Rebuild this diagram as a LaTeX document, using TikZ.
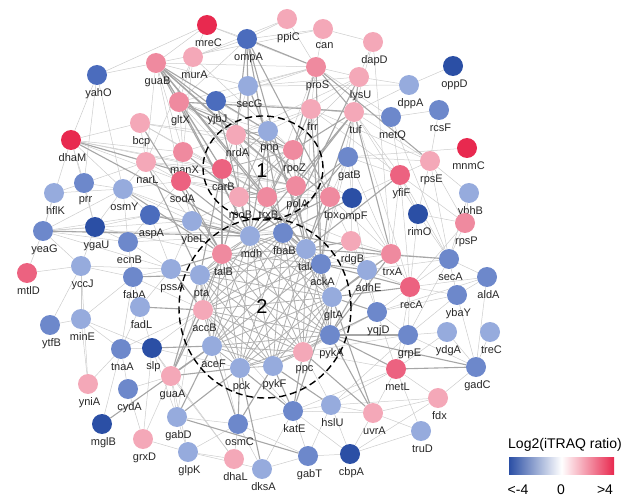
\documentclass[tikz,border=0pt]{standalone}
\usepackage{fontspec}
\setmainfont{Liberation Sans}
\usetikzlibrary{shapes.geometric,backgrounds}
\definecolor{bD}{HTML}{2B4FA5}
\definecolor{bC}{HTML}{4B6CBD}
\definecolor{bB}{HTML}{6D88CB}
\definecolor{bA}{HTML}{96ABDD}
\definecolor{rA}{HTML}{F4A8B8}
\definecolor{rB}{HTML}{EF8A9F}
\definecolor{rC}{HTML}{EC6280}
\definecolor{rD}{HTML}{E8294F}
\tikzset{
  gene/.style={circle, fill=#1, minimum size=20pt, inner sep=0pt},
  lbl/.style={font=\fontsize{11}{13}\selectfont, text=black!85, inner sep=1pt, label distance=2.5pt, xshift=1.5pt},
  lnk/.style={draw=gray!40, line width=0.5pt},
  lnkm/.style={draw=gray!62, line width=0.8pt},
  lnkw/.style={draw=gray!70, line width=1.1pt},
  module/.style={ellipse, draw=black, dashed, dash pattern=on 7pt off 4pt, line width=1.4pt, inner sep=0pt},
  modnum/.style={font=\fontsize{20}{22}\selectfont},
  legtxt/.style={font=\fontsize{14}{16}\selectfont}
}
\begin{document}
\begin{tikzpicture}[x=1pt,y=-1pt]
\useasboundingbox (0,0) rectangle (638,500);
% clusters
\node[module, minimum width=120pt, minimum height=104pt] (clusA) at (263,168) {};
\node[module, minimum width=172pt, minimum height=180pt] (clusB) at (265,308) {};
\node[modnum] (numA) at (262,171) {1};
\node[modnum] (numB) at (262,307) {2};
% proteins: name/x/y/colour
\foreach \n/\x/\y/\col in {
  mreC/207/25/rD, ompA/247/39/bC, ppiC/287/19/rA, can/323/29/rA, dapD/373/42/rA,
  oppD/453/66/bD, yahO/97/75/bC, guaB/156/63/rB, murA/193/57/rA, proS/316/67/rB,
  lysU/359/77/rA, secG/248/86/bA, dppA/409/85/bA, gltX/179/102/rB, yjbJ/216/101/bC,
  frr/311/109/rA, tuf/354/112/rA, metQ/391/117/bB, rcsF/439/110/bB, bcp/140/123/rA,
  nrdA/236/135/rA, pnp/268/131/bA, dhaM/71/140/rD, mnmC/467/148/rD, rpoZ/293/150/rB,
  manX/183/152/rB, gatB/348/157/bB, rpsE/430/161/rA, narL/146/162/rA, carB/222/169/rC,
  yfiF/400/175/rC, sodA/181/181/rC, prr/84/183/bB, polA/296/186/rB, hflK/54/193/bA,
  osmY/123/189/bA, ybhB/469/193/bA, rpoB/239/197/rA, trxB/267/197/rB, tpx/330/197/rB,
  ompF/352/198/bD, rimO/418/214/bD, aspA/150/215/bC, ybeL/192/221/bA, rpsP/465/223/rB,
  ygaU/95/227/bD, yeaG/43/231/bB, mdh/250/236/bA, fbaB/283/233/bB, ecnB/128/242/bB,
  rdgB/351/241/rA, talA/306/249/bA, talB/222/254/rB, trxA/391/254/rB, secA/449/259/bB,
  ackA/321/264/bB, yccJ/81/266/bA, pssA/171/269/bA, adhE/367/270/bA, mtlD/27/273/rC,
  fabA/133/277/bB, pta/200/275/bA, aldA/487/277/bB, recA/410/287/rC, ybaY/457/295/bB,
  gltA/332/297/bA, fadL/140/307/bA, accB/203/310/rA, yqjD/377/312/bB, minE/81/319/bA,
  ytfB/50/325/bB, treC/490/332/bA, ydgA/447/332/bA, grpE/408/335/bB, pykA/330/335/bB,
  aceF/212/346/bA, tnaA/121/349/bB, slp/152/348/bD, ppc/303/352/rA, pykF/273/366/bA,
  pck/240/368/bA, gadC/476/367/bB, metL/396/369/rC, guaA/171/376/rA, yniA/88/384/rA,
  cydA/128/389/bB, fdx/438/398/rA, hslU/331/405/bA, katE/293/411/bB, uvrA/373/413/rA,
  gabD/177/417/bA, mglB/102/424/bD, osmC/238/424/bB, truD/421/431/bA, grxD/143/439/rA,
  glpK/188/452/bA, cbpA/350/454/bD, gabT/308/456/bB, dhaL/234/459/rA, dksA/262/469/bA}
  \node[gene=\col, label={[lbl]below:\n}] (\n) at (\x,\y) {};
\begin{scope}[on background layer]
% thin interactions
\foreach \a/\b in {
  mreC/yahO, mreC/guaB, mreC/murA, mreC/ompA, mreC/proS, ompA/ppiC, ompA/can, ompA/secG,
  ompA/murA, ompA/gltX, ppiC/proS, ppiC/murA, can/dapD, can/proS, can/guaB, dapD/lysU,
  dapD/tuf, dapD/trxA, oppD/dppA, dppA/tuf, dppA/lysU, dppA/secG, rcsF/metQ, rcsF/rpsE,
  metQ/tuf, metQ/frr, metQ/yfiF, metQ/secA, mnmC/gatB, yahO/dhaM, yahO/prr, yahO/osmY,
  yahO/guaB, guaB/gltX, guaB/manX, guaB/sodA, guaB/rpoB, guaB/secG, guaB/proS, guaB/narL,
  murA/gltX, murA/manX, murA/narL, murA/rpoZ, secG/pnp, secG/lysU, secG/proS, secG/carB,
  proS/frr, proS/lysU, proS/metQ, proS/gltX, proS/yjbJ, lysU/frr, lysU/gatB, lysU/nrdA,
  lysU/rpoB, gltX/pnp, gltX/carB, gltX/manX, gltX/polA, gltX/trxB, gltX/tuf, gltX/ompF,
  yjbJ/pnp, yjbJ/nrdA, yjbJ/tuf, frr/pnp, frr/nrdA, frr/tpx, frr/yfiF, frr/rpsE,
  tuf/gatB, tuf/rpsE, tuf/yfiF, tuf/rimO, tuf/ompF, tuf/recA, bcp/narL, bcp/nrdA,
  bcp/carB, bcp/trxB, bcp/dhaM, dhaM/narL, dhaM/manX, dhaM/sodA, dhaM/carB, dhaM/prr,
  dhaM/ygaU, dhaM/yeaG, dhaM/osmY, gatB/yfiF, gatB/tpx, gatB/ompF, gatB/rpsE, gatB/trxA,
  rpsE/yfiF, rpsE/rpsP, rpsE/ybhB, rpsE/rimO, rpsE/secA, yfiF/rimO, yfiF/rpsP, yfiF/ompF,
  yfiF/trxA, yfiF/secA, yfiF/recA, ybhB/rpsP, ybhB/secA, rimO/rpsP, rimO/secA, rimO/recA,
  rpsP/secA, rpsP/recA, tpx/ompF, tpx/rdgB, tpx/trxA, tpx/sodA, ompF/rdgB, ompF/trxA,
  ompF/adhE, rdgB/trxA, rdgB/adhE, rdgB/yqjD, trxA/adhE, trxA/recA, trxA/secA, secA/aldA,
  secA/recA, secA/ybaY, secA/adhE, secA/grpE, aldA/ybaY, aldA/recA, aldA/gadC, aldA/yqjD,
  recA/ybaY, recA/yqjD, recA/adhE, recA/grpE, recA/metL, ybaY/grpE, ybaY/yqjD, ybaY/gadC,
  adhE/yqjD, yqjD/grpE, yqjD/metL, grpE/metL, grpE/ydgA, grpE/hslU, ydgA/metL, ydgA/gadC,
  treC/gadC, gadC/fdx, gadC/grpE, metL/uvrA, metL/truD, metL/fdx, metL/hslU, metL/katE,
  fdx/uvrA, fdx/hslU, fdx/cbpA, truD/uvrA, truD/cbpA, uvrA/hslU, uvrA/cbpA, uvrA/katE,
  hslU/katE, hslU/cbpA, hslU/gabT, cbpA/katE, cbpA/gabT, gabT/katE, gabT/dksA, gabT/osmC,
  katE/osmC, katE/dksA, dksA/osmC, dksA/glpK, osmC/gabD, osmC/glpK, dhaL/osmC, dhaL/slp,
  dhaL/guaA, dhaL/glpK, glpK/gabD, glpK/guaA, glpK/grxD, gabD/guaA, gabD/slp, grxD/cydA,
  grxD/slp, grxD/guaA, mglB/tnaA, cydA/tnaA, cydA/guaA, yniA/minE, yniA/tnaA, yniA/yccJ,
  guaA/slp, slp/tnaA, slp/fadL, slp/accB, tnaA/fadL, tnaA/minE, tnaA/fabA, ytfB/yccJ,
  ytfB/minE, minE/yccJ, minE/fabA, mtlD/yccJ, mtlD/yeaG, yccJ/yeaG, yccJ/ygaU, yccJ/fabA,
  yeaG/ygaU, yeaG/hflK, yeaG/osmY, yeaG/ecnB, yeaG/aspA, yeaG/ybeL, yeaG/pssA, ygaU/ecnB,
  ygaU/aspA, ygaU/prr, ygaU/osmY, hflK/prr, hflK/osmY, prr/osmY, prr/narL, osmY/aspA,
  osmY/ecnB, osmY/narL, osmY/sodA, osmY/ybeL, aspA/ecnB, aspA/ybeL, aspA/sodA, aspA/pssA,
  ecnB/fabA, ecnB/pssA, ecnB/ybeL, fabA/fadL, fabA/pssA, fadL/pssA, pssA/ybeL, ybeL/sodA,
  ybeL/rpoB, narL/manX, narL/sodA, narL/carB, narL/ybeL, manX/sodA, manX/carB, manX/rpoB,
  manX/nrdA, sodA/carB, sodA/rpoB, yeaG/fbaB, ygaU/talB, ecnB/mdh, fabA/accB, yccJ/pssA,
  tnaA/accB, minE/slp, dhaM/polA, bcp/rpoZ, narL/polA, sodA/trxB, osmY/mdh, aspA/fbaB,
  rpoZ/tpx, polA/tpx, trxB/ompF, rpoB/rdgB, tuf/ackA, frr/talA, proS/trxB, secG/mdh,
  gatB/ackA, rdgB/gltA, trxA/ackA, adhE/talA, yqjD/ppc, grpE/ppc, metL/ppc, hslU/ppc,
  katE/accB, osmC/pta, gabD/pta, guaA/ackA, slp/pck, aceF/talB}
  \draw[lnk] (\a) -- (\b);
% cluster 1 and cluster 2, all pairs
\foreach \a [count=\i] in {nrdA,pnp,rpoZ,polA,trxB,rpoB,carB}
  \foreach \b [count=\j] in {nrdA,pnp,rpoZ,polA,trxB,rpoB,carB}
    {\ifnum\i<\j \draw[lnkm] (\a) -- (\b);\fi}
\foreach \a [count=\i] in {mdh,fbaB,talA,ackA,gltA,pykA,ppc,pykF,pck,aceF,accB,pta,talB}
  \foreach \b [count=\j] in {mdh,fbaB,talA,ackA,gltA,pykA,ppc,pykF,pck,aceF,accB,pta,talB}
    {\ifnum\i<\j \draw[lnkm] (\a) -- (\b);\fi}
% strong interactions
\foreach \a/\b in {
  ompA/nrdA, ompA/tpx, ompA/talA, ompA/mdh, ompA/fbaB, ompA/proS, guaB/nrdA, guaB/carB,
  guaB/pnp, guaB/trxB, guaB/tpx, guaB/polA, guaB/mdh, guaB/talA, proS/rpoZ, proS/tuf,
  proS/rpsE, proS/ackA, gltX/nrdA, gltX/rpoZ, gltX/frr, gltX/mdh, tuf/rpoZ, tuf/polA,
  tuf/trxA, tuf/mdh, tuf/talA, lysU/tuf, lysU/fbaB, frr/rpoZ, frr/polA, frr/ackA, frr/tuf,
  dhaM/trxB, dhaM/mdh, gatB/mdh, gatB/fbaB, tpx/mdh, tpx/talA, tpx/ackA, ompF/fbaB,
  rdgB/talA, rdgB/ackA, trxA/gltA, trxA/pykA, trxA/fbaB, adhE/ackA, adhE/gltA, adhE/pykA,
  yqjD/pykA, yqjD/gltA, recA/gltA, recA/ackA, secA/talA, gadC/metL, gadC/pykA, metL/pykA,
  grpE/pykA, uvrA/ppc, uvrA/pykA, uvrA/gltA, hslU/pykF, katE/pykF, katE/pck, katE/ppc,
  katE/gltA, dksA/pck, osmC/pck, osmC/aceF, osmC/pykF, gabD/aceF, gabD/pck, gabD/gabT,
  mglB/aceF, guaA/aceF, guaA/accB, guaA/pck, guaA/pta, guaA/talB, slp/aceF, fadL/accB,
  fabA/pta, pssA/pta, pssA/talB, pssA/accB, ybeL/talB, ybeL/mdh, aspA/mdh, sodA/talB,
  sodA/mdh, yeaG/mdh, osmY/talB, bcp/talB, narL/pta, manX/talA, secG/gltA, yjbJ/mdh,
  rpoZ/mdh, polA/fbaB, trxB/talA, rpoB/talB, carB/pta, yfiF/talA, pnp/mdh, rpoB/mdh,
  trxB/fbaB, polA/talA, carB/talB}
  \draw[lnkw] (\a) -- (\b);
\end{scope}
% colour key
\node[legtxt] (keyttl) at (565,445) {Log2(iTRAQ ratio)};
\node[minimum width=105pt, minimum height=17pt, inner sep=0pt, left color=bD, right color=rD, middle color=white] (keybar) at (561.5,465.5) {};
\node[legtxt] (keylo) at (518,490) {<-4};
\node[legtxt] (keymid) at (561,490) {0};
\node[legtxt] (keyhi) at (605,490) {>4};
\end{tikzpicture}
\end{document}
